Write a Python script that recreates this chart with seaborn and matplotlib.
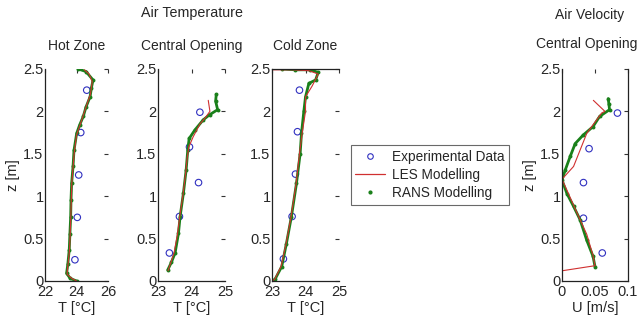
import numpy as np
import pandas as pd
import matplotlib
matplotlib.use("Agg")
import matplotlib.pyplot as plt
import seaborn as sns
from matplotlib.lines import Line2D

# ---------------- data ----------------
# Hot zone (T [degC], z [m])
hot_rans_T = [24.1, 24.6, 25.05, 24.95, 24.86, 24.6, 24.43, 24.2, 24.01, 23.84, 23.78, 23.69, 23.65, 23.63, 23.58, 23.54, 23.45, 23.37, 23.6, 24.0]
hot_rans_z = [2.5, 2.47, 2.37, 2.28, 2.17, 2.05, 1.94, 1.84, 1.74, 1.54, 1.35, 1.15, 0.95, 0.76, 0.55, 0.37, 0.2, 0.09, 0.03, 0.0]
hot_les_T = [24.5, 24.8, 25.0, 24.88, 24.6, 24.3, 24.0, 23.85, 23.7, 23.64, 23.56, 23.45, 23.4, 23.7, 24.0]
hot_les_z = [2.49, 2.44, 2.35, 2.2, 2.05, 1.88, 1.72, 1.5, 1.15, 0.76, 0.37, 0.18, 0.08, 0.03, 0.0]
hot_exp_T = [24.65, 24.27, 24.14, 24.05, 23.9]
hot_exp_z = [2.25, 1.75, 1.25, 0.75, 0.25]

# Central opening temperature
cen_rans_T = [24.74, 24.72, 24.78, 24.54, 24.35, 24.1, 23.93, 23.89, 23.84, 23.76, 23.66, 23.61, 23.51, 23.4, 23.29]
cen_rans_z = [2.2, 2.12, 2.02, 1.96, 1.9, 1.78, 1.68, 1.55, 1.31, 1.04, 0.76, 0.56, 0.33, 0.22, 0.13]
cen_les_T = [24.5, 24.55, 24.42, 24.25, 24.05, 23.92, 23.87, 23.82, 23.74, 23.65, 23.58, 23.48, 23.3]
cen_les_z = [2.13, 2.0, 1.93, 1.85, 1.7, 1.58, 1.45, 1.25, 1.0, 0.76, 0.55, 0.33, 0.12]
cen_exp_T = [24.25, 23.94, 24.21, 23.64, 23.34]
cen_exp_z = [1.99, 1.58, 1.16, 0.76, 0.33]

# Cold zone temperature
cold_rans_T = [23.29, 23.7, 24.13, 24.38, 24.3, 24.1, 24.0, 23.95, 23.88, 23.84, 23.73, 23.58, 23.43, 23.29, 23.09, 23.0]
cold_rans_z = [2.5, 2.49, 2.49, 2.46, 2.37, 2.33, 2.17, 2.0, 1.74, 1.5, 1.15, 0.76, 0.44, 0.17, 0.02, 0.0]
cold_les_T = [23.0, 23.6, 24.1, 24.38, 24.2, 24.0, 24.0, 23.9, 23.82, 23.72, 23.57, 23.42, 23.27, 23.08, 23.0]
cold_les_z = [2.49, 2.49, 2.48, 2.44, 2.3, 2.17, 2.0, 1.74, 1.5, 1.15, 0.76, 0.44, 0.17, 0.02, 0.0]
cold_exp_T = [23.82, 23.76, 23.7, 23.6, 23.34]
cold_exp_z = [2.25, 1.76, 1.26, 0.76, 0.26]

# Central opening velocity (U [m/s], z [m])
vel_rans_U = [0.07, 0.071, 0.072, 0.057, 0.047, 0.032, 0.02, 0.0125, 0.005, 0.0, 0.0075, 0.0175, 0.0275, 0.0375, 0.047, 0.05]
vel_rans_z = [2.15, 2.09, 2.02, 1.94, 1.82, 1.72, 1.62, 1.47, 1.31, 1.19, 1.03, 0.88, 0.72, 0.48, 0.29, 0.17]
vel_les_U = [0.0475, 0.065, 0.06, 0.0375, 0.0175, 0.0, 0.0075, 0.02, 0.0375, 0.047, 0.05, 0.0]
vel_les_z = [2.13, 2.0, 1.98, 1.74, 1.35, 1.2, 1.07, 0.85, 0.55, 0.3, 0.18, 0.12]
vel_exp_U = [0.084, 0.041, 0.0325, 0.0325, 0.061]
vel_exp_z = [1.98, 1.56, 1.16, 0.74, 0.33]

# ---------------- style ----------------
sns.set_style("white")
plt.rcParams['font.family'] = ['Liberation Sans', 'DejaVu Sans']

GREEN = "#1a801a"
RED = "#d03030"
BLUE = "#3030c0"

fig = plt.figure(figsize=(6.39, 3.20), dpi=100)

def panel(rect, rans_x, rans_z, les_x, les_z, exp_x, exp_z, xlim, xticks, xticklabels, xlabel, spines_on):
    ax = fig.add_axes(rect)
    sns.lineplot(x=rans_x, y=rans_z, sort=False, estimator=None, color=GREEN, lw=2.0, ax=ax)
    sns.scatterplot(x=rans_x, y=rans_z, color=GREEN, s=8, linewidth=0, ax=ax)
    sns.lineplot(x=les_x, y=les_z, sort=False, estimator=None, color=RED, lw=0.8, ax=ax)
    sns.scatterplot(x=exp_x, y=exp_z, marker='o', s=22, facecolor='none', edgecolor=BLUE, linewidth=0.8, ax=ax)
    ax.set_xlim(*xlim)
    ax.set_ylim(0, 2.5)
    ax.set_xticks(xticks)
    ax.set_xticklabels(xticklabels)
    ax.set_yticks([0, 0.5, 1, 1.5, 2, 2.5])
    ax.set_yticklabels(["0", "0.5", "1", "1.5", "2", "2.5"])
    ax.tick_params(direction='in', length=3, width=0.8, labelsize=10.5, pad=1,
                   top=True, right=True, color='#333333')
    ax.tick_params(axis='x', pad=3)
    ax.set_xlabel(xlabel, fontsize=10.5, labelpad=1)
    for side in ['left', 'bottom', 'top', 'right']:
        ax.spines[side].set_visible(side in spines_on)
        ax.spines[side].set_color('#222222')
        ax.spines[side].set_linewidth(0.9)
    return ax

b, h = 0.122, 0.6625
ax_hot = panel([45/639, b, 63/639, h], hot_rans_T, hot_rans_z, hot_les_T, hot_les_z, hot_exp_T, hot_exp_z,
               (22, 26), [22, 24, 26], ["22", "24", "26"], "T [°C]", ['left', 'bottom'])
ax_cen = panel([158/639, b, 67/639, h], cen_rans_T, cen_rans_z, cen_les_T, cen_les_z, cen_exp_T, cen_exp_z,
               (23, 25), [23, 24, 25], ["23", "24", "25"], "T [°C]", ['left', 'bottom'])
ax_cold = panel([272/639, b, 67/639, h], cold_rans_T, cold_rans_z, cold_les_T, cold_les_z, cold_exp_T, cold_exp_z,
                (23, 25), [23, 24, 25], ["23", "24", "25"], "T [°C]", ['left', 'bottom', 'top'])
ax_vel = panel([562/639, b, 66/639, h], vel_rans_U, vel_rans_z, vel_les_U, vel_les_z, vel_exp_U, vel_exp_z,
               (0, 0.1), [0, 0.05, 0.1], ["0", "0.05", "0.1"], "U [m/s]", ['left', 'bottom', 'right'])

ax_hot.set_ylabel("z [m]", fontsize=10.5, labelpad=2)
ax_vel.set_ylabel("z [m]", fontsize=10.5, labelpad=2)
for ax in [ax_cen, ax_cold]:
    ax.set_ylabel("")

ax_hot.set_title("Hot Zone", fontsize=10, pad=14)
ax_cen.set_title("Central Opening", fontsize=10, pad=14)
ax_cold.set_title("Cold Zone", fontsize=10, pad=14)
fig.text(587/639, 1 - 44/320, "Central Opening", ha='center', va='center', fontsize=10)

fig.text(192/639, 1 - 13/320, "Air Temperature", ha='center', va='center', fontsize=10.3)
fig.text(590/639, 1 - 15/320, "Air Velocity", ha='center', va='center', fontsize=10)

# legend
handles = [
    Line2D([], [], ls='none', marker='o', ms=4, mfc='none', mec=BLUE, mew=0.8),
    Line2D([], [], color=RED, lw=0.9),
    Line2D([], [], ls='none', marker='.', ms=4, color=GREEN),
]
labels = ["Experimental Data", "LES Modelling", "RANS Modelling"]
leg = fig.legend(handles, labels, loc='center', bbox_to_anchor=(430/639, 1 - 175/320),
                 fontsize=9.8, frameon=True, fancybox=False, edgecolor='#444444',
                 handlelength=2.2, handletextpad=0.5, borderpad=0.35, labelspacing=0.3,
                 borderaxespad=0)
leg.get_frame().set_linewidth(0.8)

fig.savefig("out.png", dpi=100)
